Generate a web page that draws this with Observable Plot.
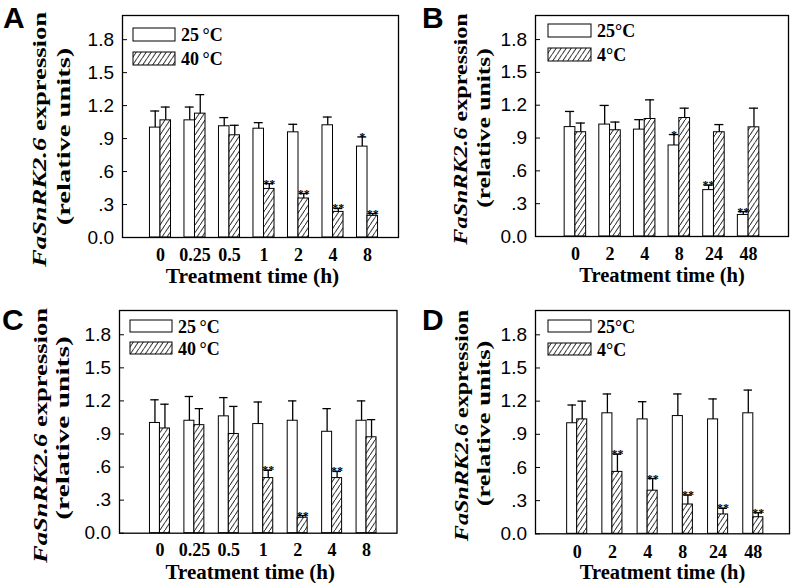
<!DOCTYPE html>
<html><head><meta charset="utf-8">
<script src="https://cdn.jsdelivr.net/npm/d3@7"></script>
<script src="https://cdn.jsdelivr.net/npm/@observablehq/plot@0.6"></script>
<style>
body{margin:0;background:#fff;}
#wrap{position:relative;width:793px;height:583px;overflow:hidden;background:#fff;}
.panel{position:absolute;}
.letter{position:absolute;font:bold 30px "Liberation Sans",Arial,sans-serif;line-height:normal;color:#000;}
.leg{position:absolute;font:bold 18px "Liberation Serif","Times New Roman",serif;line-height:14px;color:#000;white-space:nowrap;}
</style></head><body>
<svg width="0" height="0" style="position:absolute"><defs>
<pattern id="hatch" patternUnits="userSpaceOnUse" width="5" height="7.5">
<rect width="5" height="7.5" fill="#fff"/>
<path d="M0,7.5 L5,0" stroke="#000" stroke-width="0.9" stroke-linecap="square"/>
</pattern></defs></svg>
<div id="wrap"></div>
<script>
// ---------- data ----------
// Panel A: heat (40 °C)
const timesA = ["0","0.25","0.5","1","2","4","8"];
const ctrlA = [1.00, 1.066, 1.012, 0.99, 0.957, 1.021, 0.827];
const ctrlTopA = [1.151, 1.187, 1.091, 1.045, 1.03, 1.096, 0.915];
const treatA = [1.066, 1.127, 0.93, 0.442, 0.355, 0.233, 0.197];
const treatTopA = [1.187, 1.30, 1.021, 0.49, 0.40, 0.264, 0.218];
const ctrlSigA = ["","","","","","","*"];
const treatSigA = ["","","","**","**","**","**"];
// Panel B: cold (4 °C)
const timesB = ["0","2","4","8","24","48"];
const ctrlB = [1.00, 1.023, 0.977, 0.832, 0.424, 0.197];
const ctrlTopB = [1.143, 1.198, 1.068, 0.932, 0.469, 0.227];
const treatB = [0.953, 0.971, 1.074, 1.083, 0.953, 0.998];
const treatTopB = [1.037, 1.046, 1.249, 1.173, 1.023, 1.173];
const ctrlSigB = ["","","","*","**","**"];
const treatSigB = ["","","","","",""];
// Panel C: heat (40 °C)
const timesC = ["0","0.25","0.5","1","2","4","8"];
const ctrlC = [1.00, 1.02, 1.06, 0.99, 1.02, 0.92, 1.02];
const ctrlTopC = [1.21, 1.24, 1.23, 1.19, 1.20, 1.13, 1.20];
const treatC = [0.95, 0.98, 0.90, 0.50, 0.14, 0.50, 0.87];
const treatTopC = [1.17, 1.13, 1.15, 0.57, 0.16, 0.56, 1.03];
const ctrlSigC = ["","","","","","",""];
const treatSigC = ["","","","**","**","**",""];
// Panel D: cold (4 °C)
const timesD = ["0","2","4","8","24","48"];
const ctrlD = [1.00, 1.09, 1.035, 1.065, 1.035, 1.09];
const ctrlTopD = [1.165, 1.265, 1.195, 1.265, 1.22, 1.30];
const treatD = [1.035, 0.56, 0.39, 0.265, 0.175, 0.15];
const treatTopD = [1.20, 0.72, 0.50, 0.35, 0.23, 0.19];
const ctrlSigD = ["","","","","",""];
const treatSigD = ["","**","**","**","**","**"];

const yTicks = [0, 0.3, 0.6, 0.9, 1.2, 1.5, 1.8];
const yTickLabels = ["0.0", ".3", ".6", ".9", "1.2", "1.5", "1.8"];
const ctrlName = ["25\u2009°C", "25°C", "25\u2009°C", "25°C"];
const treatName = ["40\u2009°C", "4°C", "40\u2009°C", "4°C"];
const letters = ["A","B","C","D"];
const xTitle = "Treatment time (h)";
const yItalic = "FaSnRK2.6";
const yRest = " expression";
const yLine2 = "(relative units)";

const SERIF = "Liberation Serif, Times New Roman, serif";
const SANS = "Liberation Sans, Arial, sans-serif";

const wrap = document.getElementById("wrap");

function panel(cfg) {
  const {times, ctrl, ctrlTop, treat, treatTop, ctrlSig, treatSig, idx, left, top, width, height,
         ml, mr, mt, mb, insL, insR, pad, lab, leg, titleDx, titleFs, catFs, catPad} = cfg;
  const rows = times.map((t, i) => ({t, c: ctrl[i], ct: ctrlTop[i], h: treat[i], ht: treatTop[i], cs: ctrlSig[i], hs: treatSig[i]}));
  const bw = d3.scaleBand().domain(times).range([ml + insL, width - mr - insR]).padding(pad).bandwidth();
  const half = bw / 2;
  const q = bw / 4;
  const plot = Plot.plot({
    width, height, marginLeft: ml, marginRight: mr, marginTop: mt, marginBottom: mb,
    style: {background: "#fff", overflow: "visible"},
    x: {domain: times, padding: pad, insetLeft: insL, insetRight: insR, round: false, label: null},
    y: {domain: [0, 2.02], label: null},
    marks: [
      Plot.barY(rows, {x: "t", y: "c", insetRight: half, fill: "#fff", stroke: "#000", strokeWidth: 1}),
      Plot.barY(rows, {x: "t", y: "h", insetLeft: half, fill: "url(#hatch)", stroke: "#000", strokeWidth: 1}),
      Plot.ruleX(rows, {x: "t", y1: "c", y2: "ct", dx: -q, stroke: "#000", strokeWidth: 1.3}),
      Plot.ruleX(rows, {x: "t", y1: "h", y2: "ht", dx: q, stroke: "#000", strokeWidth: 1.3}),
      Plot.tickY(rows, {x: "t", y: "ct", insetLeft: 0.8, insetRight: half + 0.8, stroke: "#000", strokeWidth: 1.3}),
      Plot.tickY(rows, {x: "t", y: "ht", insetLeft: half + 0.8, insetRight: 0.8, stroke: "#000", strokeWidth: 1.3}),
      Plot.text(rows, {x: "t", y: "ct", text: "cs", dx: -q, dy: 4, lineAnchor: "bottom", fontSize: 12, fontWeight: "bold", fontFamily: SERIF, fill: "#000"}),
      Plot.text(rows, {x: "t", y: "ht", text: "hs", dx: q, dy: 4, lineAnchor: "bottom", fontSize: 12, fontWeight: "bold", fontFamily: SERIF, fill: "#000"}),
      Plot.axisY({ticks: yTicks, tickFormat: d => yTickLabels[yTicks.indexOf(d)], tickSize: -5, tickPadding: 13.5,
        fontSize: 19, fontFamily: SANS, fill: "#000", stroke: "#000", label: null}),
      Plot.axisX({tickSize: 0, tickPadding: catPad, fontSize: catFs, fontWeight: "bold", fontFamily: SERIF, fill: "#000", label: null}),
      Plot.text([xTitle], {frameAnchor: "bottom", dx: titleDx, dy: lab.titleDy, lineAnchor: "bottom", fontSize: titleFs, fontWeight: "bold", fontFamily: SERIF, fill: "#000"}),
      Plot.frame({stroke: "#000", strokeWidth: 1.3})
    ]
  });
  const svg = d3.select(plot);
  const t1 = svg.append("text")
    .attr("transform", `translate(${lab.x1},${lab.cy1}) rotate(-90) scale(${lab.s},1)`)
    .attr("text-anchor", "middle").attr("dy", "0.35em")
    .attr("font-family", SERIF).attr("font-weight", "bold").attr("font-size", lab.fs).attr("fill", "#000");
  t1.append("tspan").attr("font-style", "italic").text(yItalic);
  t1.append("tspan").text(yRest);
  svg.append("text")
    .attr("transform", `translate(${lab.x2},${lab.cy2}) rotate(-90) scale(${lab.s2},1)`)
    .attr("text-anchor", "middle").attr("dy", "0.35em")
    .attr("font-family", SERIF).attr("font-weight", "bold").attr("font-size", lab.fs).attr("fill", "#000")
    .text(yLine2);

  const box = document.createElement("div");
  box.className = "panel";
  box.style.left = left + "px"; box.style.top = top + "px";
  box.style.width = width + "px"; box.style.height = height + "px";
  box.appendChild(plot);

  const L = document.createElement("div");
  L.className = "letter"; L.textContent = letters[idx];
  L.style.left = cfg.letter[0] + "px"; L.style.top = cfg.letter[1] + "px";
  box.appendChild(L);

  [[ctrlName[idx], "#fff"], [treatName[idx], "url(#hatch)"]].forEach(([name, fill], k) => {
    const d = document.createElement("div");
    d.className = "leg";
    d.style.left = leg.x + "px"; d.style.top = (leg.y + k * leg.gap) + "px";
    d.innerHTML = `<svg width="${leg.w + 2}" height="${leg.h + 2}" style="vertical-align:top"><rect x="1" y="1" width="${leg.w}" height="${leg.h}" fill="${fill}" stroke="#000" stroke-width="1"/></svg><span style="position:relative;left:5px;top:1px">${name}</span>`;
    box.appendChild(d);
  });
  wrap.appendChild(box);
}

panel({times: timesA, ctrl: ctrlA, ctrlTop: ctrlTopA, treat: treatA, treatTop: treatTopA, ctrlSig: ctrlSigA, treatSig: treatSigA,
  idx: 0, left: 0, top: 0, width: 400, height: 290, ml: 122, mr: 2, mt: 15, mb: 53, insL: 14, insR: 7, pad: 0.39,
  lab: {x1: 39, cy1: 139.5, x2: 63, cy2: 136.5, fs: 19, s: 1.4, s2: 1.5, titleDy: 45.5}, titleDx: -8, titleFs: 21.5, catFs: 18, catPad: 11.2,
  leg: {x: 132, y: 27, gap: 23.5, w: 42, h: 13}, letter: [3, 0.5]});
panel({times: timesB, ctrl: ctrlB, ctrlTop: ctrlTopB, treat: treatB, treatTop: treatTopB, ctrlSig: ctrlSigB, treatSig: treatSigB,
  idx: 1, left: 400, top: 0, width: 393, height: 290, ml: 135, mr: 5, mt: 15, mb: 54, insL: 16, insR: 16, pad: 0.38,
  lab: {x1: 60, cy1: 129, x2: 83.5, cy2: 128, fs: 19, s: 1.27, s2: 1.35, titleDy: 45}, titleDx: 0, titleFs: 20.5, catFs: 18, catPad: 11.2,
  leg: {x: 147, y: 23, gap: 24, w: 43, h: 13}, letter: [22, 0.5]});
panel({times: timesC, ctrl: ctrlC, ctrlTop: ctrlTopC, treat: treatC, treatTop: treatTopC, ctrlSig: ctrlSigC, treatSig: treatSigC,
  idx: 2, left: 0, top: 290, width: 400, height: 293, ml: 119, mr: 3.5, mt: 20, mb: 50.3, insL: 16, insR: 6, pad: 0.42,
  lab: {x1: 40, cy1: 145.5, x2: 62.5, cy2: 138, fs: 19, s: 1.4, s2: 1.55, titleDy: 46}, titleDx: -8, titleFs: 21, catFs: 18, catPad: 10.5,
  leg: {x: 129, y: 29, gap: 21.7, w: 42, h: 12}, letter: [2, 13]});
panel({times: timesD, ctrl: ctrlD, ctrlTop: ctrlTopD, treat: treatD, treatTop: treatTopD, ctrlSig: ctrlSigD, treatSig: treatSigD,
  idx: 3, left: 400, top: 290, width: 393, height: 293, ml: 135, mr: 4, mt: 20, mb: 49.7, insL: 16.5, insR: 11, pad: 0.43,
  lab: {x1: 61.5, cy1: 135.5, x2: 83.5, cy2: 133.5, fs: 19, s: 1.27, s2: 1.4, titleDy: 45.2}, titleDx: 0, titleFs: 20.5, catFs: 18, catPad: 11.2,
  leg: {x: 147, y: 29, gap: 22.5, w: 43, h: 12}, letter: [22, 13]});
</script>
</body></html>
